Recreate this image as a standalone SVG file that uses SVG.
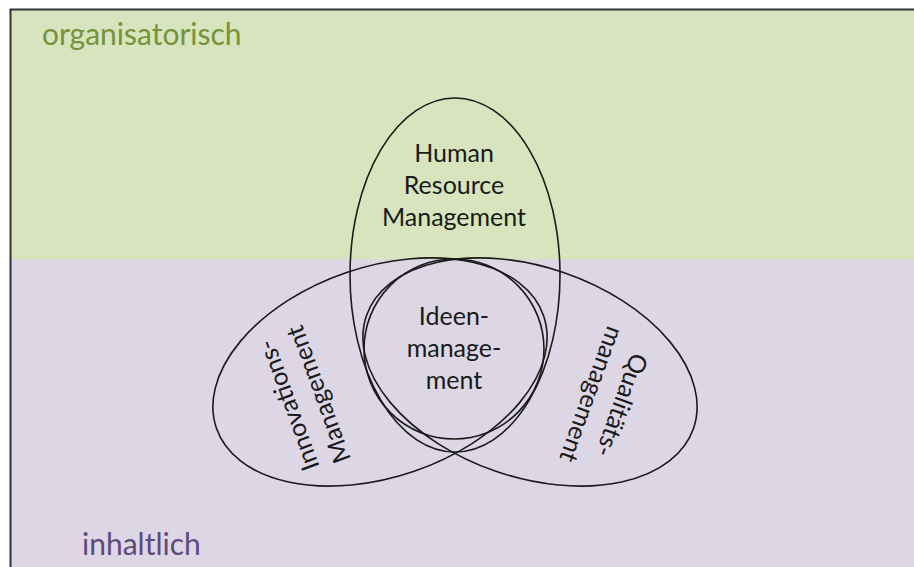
<svg xmlns="http://www.w3.org/2000/svg" width="914" height="567" viewBox="0 0 914 567">
  <style>
    .shape { fill: none; stroke: #1a1a1a; stroke-width: 1.6; }
    .lbl { font-family: Lato, "Open Sans", sans-serif; font-size: 25px; fill: #1a1a1a; text-anchor: middle; }
    .region { font-family: Lato, "Open Sans", sans-serif; font-size: 30px; }
  </style>
  <rect x="0" y="0" width="914" height="567" fill="#ffffff"/>
  <g id="region-organisatorisch">
    <rect x="10" y="9" width="910" height="251" fill="#d7e4bd"/>
    <text class="region" x="42" y="45" fill="#76923c">organisatorisch</text>
  </g>
  <g id="region-inhaltlich">
    <rect x="10" y="259.5" width="910" height="320" fill="#dcd6e5"/>
    <text class="region" x="82" y="555" fill="#604a7b">inhaltlich</text>
  </g>
  <path d="M10.5 580 V9.5 H920" fill="none" stroke="#333333" stroke-width="2"/>
  <g id="connectors"/>
  <g id="hrm">
    <ellipse class="shape" cx="455" cy="275" rx="105" ry="177"/>
    <text class="lbl" x="454" y="162">Human</text>
    <text class="lbl" x="454" y="194">Resource</text>
    <text class="lbl" x="454" y="226">Management</text>
  </g>
  <g id="innovationsmanagement">
    <ellipse class="shape" cx="0" cy="0" rx="173" ry="105" transform="translate(380 372) rotate(-19)"/>
    <g transform="translate(303 400) rotate(-110)">
      <text class="lbl" x="0" y="-7">Innovations-</text>
      <text class="lbl" x="0" y="25">Management</text>
    </g>
  </g>
  <g id="qualitaetsmanagement">
    <ellipse class="shape" cx="0" cy="0" rx="173" ry="105" transform="translate(530 372) rotate(19)"/>
    <g transform="translate(607 400) rotate(110)">
      <text class="lbl" x="0" y="-7">Qualitäts-</text>
      <text class="lbl" x="0" y="25">management</text>
    </g>
  </g>
  <g id="ideenmanagement">
    <circle class="shape" cx="454" cy="349" r="90"/>
    <text class="lbl" x="454" y="325">Ideen-</text>
    <text class="lbl" x="454" y="357">manage-</text>
    <text class="lbl" x="454" y="389">ment</text>
  </g>
</svg>
